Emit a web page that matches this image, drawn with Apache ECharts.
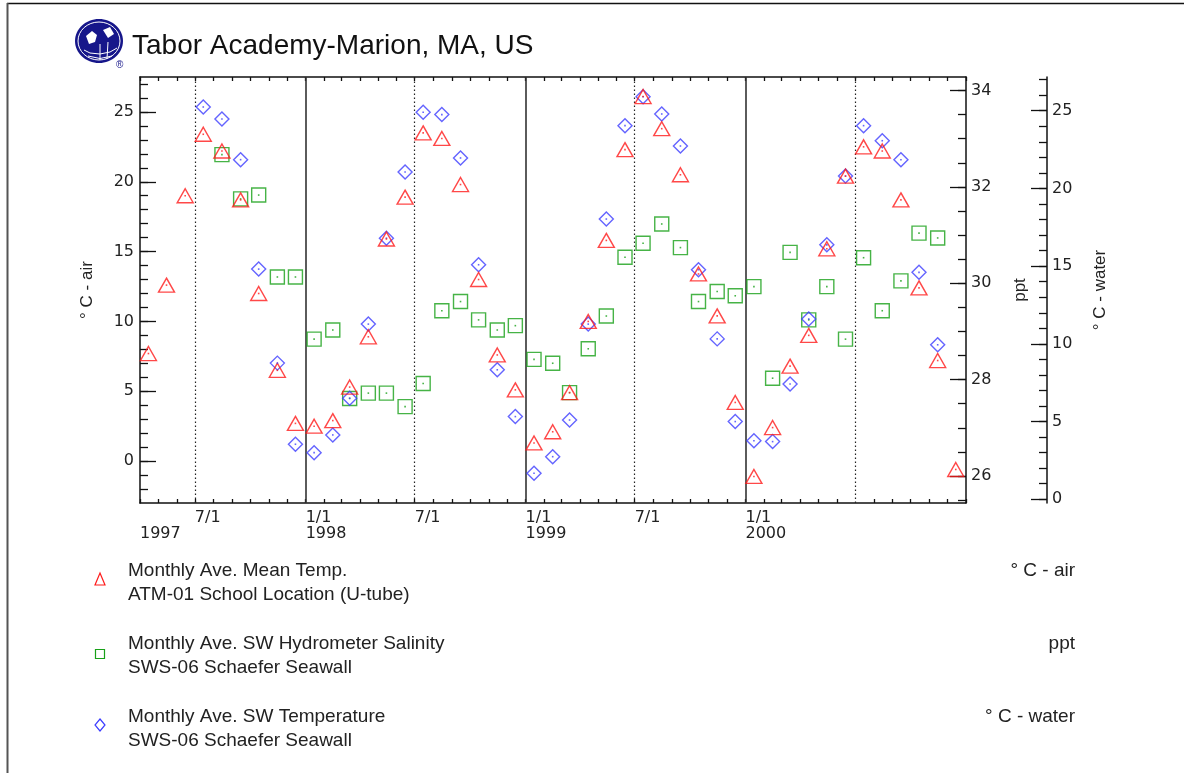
<!DOCTYPE html>
<html>
<head>
<meta charset="utf-8">
<title>Tabor Academy-Marion, MA, US</title>
<script src="https://cdn.jsdelivr.net/npm/echarts@6/dist/echarts.min.js"></script>
<style>
  html, body { margin: 0; padding: 0; background: #fff; }
  #chart { width: 1184px; height: 773px; }
</style>
</head>
<body>
<div id="chart"></div>
<script>
var months = [
  '1997-04', '1997-05', '1997-06', '1997-07', '1997-08', '1997-09', '1997-10', '1997-11', '1997-12',
  '1998-01', '1998-02', '1998-03', '1998-04', '1998-05', '1998-06', '1998-07', '1998-08', '1998-09', '1998-10', '1998-11', '1998-12',
  '1999-01', '1999-02', '1999-03', '1999-04', '1999-05', '1999-06', '1999-07', '1999-08', '1999-09', '1999-10', '1999-11', '1999-12',
  '2000-01', '2000-02', '2000-03', '2000-04', '2000-05', '2000-06', '2000-07', '2000-08', '2000-09', '2000-10', '2000-11', '2000-12'
];
// deg C - air
var airTemp = [
  7.7, 12.6, 19.0, 23.4, 22.2, 18.7, 12.0, 6.5, 2.7,
  2.5, 2.9, 5.3, 8.9, 15.9, 18.9, 23.5, 23.1, 19.8, 13.0, 7.6, 5.1,
  1.3, 2.1, 4.9, 10.0, 15.8, 22.3, 26.1, 23.8, 20.5, 13.4, 10.4, 4.2,
  -1.1, 2.4, 6.8, 9.0, 15.2, 20.4, 22.5, 22.2, 18.7, 12.4, 7.2, -0.6
];
// ppt
var salinity = [
  null, null, null, null, 32.67, 31.75, 31.83, 30.13, 30.13,
  28.84, 29.03, 27.61, 27.72, 27.72, 27.44, 27.92, 29.43, 29.62, 29.24, 29.03, 29.12,
  28.42, 28.34, 27.73, 28.64, 29.32, 30.54, 30.83, 31.23, 30.74, 29.62, 29.83, 29.74,
  29.93, 28.03, 30.64, 29.24, 29.93, 28.84, 30.53, 29.43, 30.05, 31.04, 30.94, null
];
// deg C - water
var waterTemp = [
  null, null, null, 25.24, 24.47, 21.85, 14.81, 8.76, 3.54,
  3.0, 4.14, 6.5, 11.27, 16.8, 21.06, 24.9, 24.75, 21.96, 15.09, 8.33, 5.32,
  1.67, 2.74, 5.1, 11.27, 18.03, 24.04, 25.9, 24.79, 22.73, 14.77, 10.32, 5.0,
  3.77, 3.71, 7.42, 11.6, 16.37, 20.8, 24.04, 23.07, 21.85, 14.6, 9.94, null
];
var yearStarts = ['1998-01-01', '1999-01-01', '2000-01-01'];
var midYears = ['1997-07-01', '1998-07-01', '1999-07-01', '2000-07-01'];
var airTicks = [0, 5, 10, 15, 20, 25];
var pptTicks = [26, 28, 30, 32, 34];
var waterTicks = [0, 5, 10, 15, 20, 25];

var RED = '#ff1a1a', GREEN = '#18a018', BLUE = '#3d3dff';
var FONT = '"Liberation Sans", Arial, Helvetica, sans-serif';
var TICKFONT = '"DejaVu Sans", sans-serif';

function toTime(s) {
  var p = s.split('-');
  return Date.UTC(+p[0], +p[1] - 1, p[2] ? +p[2] : 15);
}
var xMin = toTime('1997-04-01');
var xMax = toTime('2001-01-01');

// monthly ticks on top and bottom
var monthTicks = [];
for (var y = 1997, m = 3; Date.UTC(y, m, 1) <= xMax; m++) {
  if (m > 11) { m = 0; y++; }
  monthTicks.push(Date.UTC(y, m, 1));
}
var xLabels = [xMin].concat(midYears.map(toTime), yearStarts.map(toTime)).sort(function(a, b) { return a - b; });

function range(a, b, step) {
  var out = [];
  for (var v = a; v <= b + 1e-9; v += step) out.push(+v.toFixed(2));
  return out;
}

function points(vals) {
  var out = [];
  vals.forEach(function(v, i) { if (v != null) out.push([toTime(months[i]), v]); });
  return out;
}

var chart = echarts.init(document.getElementById('chart'), null, { renderer: 'canvas' });

var axisLine = { show: true, onZero: false, lineStyle: { color: '#111', width: 1.5 } };
var tickLabel = { color: '#222', fontFamily: TICKFONT, fontSize: 16 };

function yMajor(pos, offset, min, max, ticks, name, gap) {
  return {
    type: 'value', position: pos, offset: offset, min: min, max: max,
    axisLine: axisLine,
    axisTick: { show: true, inside: true, length: 16, customValues: ticks, lineStyle: { color: '#111', width: 1.3 } },
    axisLabel: Object.assign({ customValues: ticks, margin: pos === 'left' ? 6 : 5 }, tickLabel),
    splitLine: { show: false },
    name: name, nameLocation: 'middle', nameRotate: 90, nameGap: gap,
    nameTextStyle: { color: '#222', fontFamily: FONT, fontSize: 17 }
  };
}
function yMinor(pos, offset, min, max, ticks) {
  return {
    type: 'value', position: pos, offset: offset, min: min, max: max,
    axisLine: { show: false, onZero: false },
    axisTick: { show: true, inside: true, length: 8, customValues: ticks, lineStyle: { color: '#111', width: 1.3 } },
    axisLabel: { show: false },
    splitLine: { show: false }
  };
}

function markerSeries(name, vals, yIdx, symbol, size, color) {
  return {
    name: name, type: 'scatter', xAxisIndex: 0, yAxisIndex: yIdx,
    data: points(vals), symbol: symbol, symbolSize: size,
    itemStyle: { color: 'rgba(0,0,0,0)', borderColor: color, borderWidth: 1.4 },
    z: 3
  };
}
function dotSeries(vals, yIdx, color) {
  return {
    type: 'scatter', xAxisIndex: 0, yAxisIndex: yIdx,
    data: points(vals), symbol: 'rect', symbolSize: 1.6,
    itemStyle: { color: color }, z: 4, silent: true
  };
}

var vLines = yearStarts.map(function(s) {
  return { xAxis: toTime(s), lineStyle: { type: 'solid', color: '#333', width: 1.6 } };
}).concat(midYears.map(function(s) {
  return { xAxis: toTime(s), lineStyle: { type: [1.5, 2.5], color: '#222', width: 1.2 } };
}));

chart.setOption({
  animation: false,
  grid: { left: 140, top: 77, width: 826, height: 426, outerBoundsMode: 'none' },
  xAxis: [
    {
      type: 'value', position: 'bottom', min: xMin, max: xMax,
      axisLine: axisLine,
      axisTick: { show: true, inside: true, length: 4, customValues: monthTicks, lineStyle: { color: '#111', width: 1.3 } },
      axisLabel: Object.assign({
        customValues: xLabels, align: 'left', verticalAlign: 'top', margin: 7, lineHeight: 16,
        showMinLabel: true, showMaxLabel: false, hideOverlap: false,
        formatter: function(v) {
          var d = new Date(v);
          if (v === xMin) return '\n' + d.getUTCFullYear();
          if (d.getUTCMonth() === 0) return '1/1\n' + d.getUTCFullYear();
          if (d.getUTCMonth() === 6) return '7/1';
          return '';
        }
      }, tickLabel),
      splitLine: { show: false }
    },
    {
      type: 'value', position: 'top', min: xMin, max: xMax,
      axisLine: axisLine,
      axisTick: { show: true, inside: true, length: 4, customValues: monthTicks, lineStyle: { color: '#111', width: 1.3 } },
      axisLabel: { show: false },
      splitLine: { show: false }
    }
  ],
  yAxis: [
    yMajor('left', 0, -3, 27.5, airTicks, '\u00b0 C - air', 44),
    yMinor('left', 0, -3, 27.5, range(-2, 27, 1)),
    yMajor('right', 0, 25.44, 34.28, pptTicks, 'ppt', 46),
    yMinor('right', 0, 25.44, 34.28, range(25.5, 34, 0.5)),
    yMajor('right', 81, -0.24, 27.17, waterTicks, '\u00b0 C - water', 45),
    yMinor('right', 81, -0.24, 27.17, range(0, 27, 1))
  ],
  series: [
    markerSeries('Monthly Ave. SW Hydrometer Salinity', salinity, 2, 'rect', 14, GREEN),
    markerSeries('Monthly Ave. SW Temperature', waterTemp, 4, 'diamond', 14, BLUE),
    Object.assign(markerSeries('Monthly Ave. Mean Temp.', airTemp, 0, 'triangle', [16, 14], RED), {
      markLine: { silent: true, symbol: ['none', 'none'], label: { show: false }, data: vLines, z: 1 }
    }),
    dotSeries(salinity, 2, GREEN),
    dotSeries(waterTemp, 4, BLUE),
    dotSeries(airTemp, 0, RED)
  ],
  graphic: [
    // page frame
    { type: 'line', shape: { x1: 7, y1: 3.5, x2: 1184, y2: 3.5 }, style: { stroke: '#111', lineWidth: 1.5 } },
    { type: 'line', shape: { x1: 7.5, y1: 3, x2: 7.5, y2: 773 }, style: { stroke: '#555', lineWidth: 2 } },
    // logo
    { type: 'ellipse', shape: { cx: 99, cy: 41, rx: 24, ry: 22 }, style: { fill: '#16168a' } },
    { type: 'ellipse', shape: { cx: 99, cy: 41, rx: 21, ry: 19 }, style: { fill: 'none', stroke: '#fff', lineWidth: 1 } },
    { type: 'polyline', shape: { points: [[84, 50], [90, 53], [100, 54], [110, 52], [117, 48]] }, style: { stroke: '#fff', lineWidth: 1, fill: 'none' } },
    { type: 'polyline', shape: { points: [[88, 56], [100, 58.5], [112, 56]] }, style: { stroke: '#fff', lineWidth: 1, fill: 'none' } },
    { type: 'line', shape: { x1: 100, y1: 44, x2: 100, y2: 60 }, style: { stroke: '#fff', lineWidth: 1 } },
    { type: 'line', shape: { x1: 108, y1: 42, x2: 107, y2: 59 }, style: { stroke: '#fff', lineWidth: 1 } },
    { type: 'polygon', shape: { points: [[86, 36], [92, 31], [97, 35], [95, 42], [89, 44]] }, style: { fill: '#fff' } },
    { type: 'polygon', shape: { points: [[103, 30], [110, 27], [114, 34], [108, 38]] }, style: { fill: '#fff' } },
    { type: 'text', x: 116, y: 60, style: { text: '\u00ae', fill: '#16168a', fontSize: 10, fontFamily: FONT } },
    // title
    { type: 'text', x: 132, y: 46, style: { text: 'Tabor Academy-Marion, MA, US', fill: '#111', fontSize: 28, fontFamily: FONT, verticalAlign: 'middle' } },
    // legend markers
    { type: 'polygon', shape: { points: [[95, 585], [105, 585], [100, 573]] }, style: { fill: 'none', stroke: RED, lineWidth: 1.2 } },
    { type: 'rect', shape: { x: 95.5, y: 649.5, width: 9, height: 9 }, style: { fill: 'none', stroke: GREEN, lineWidth: 1.2 } },
    { type: 'polygon', shape: { points: [[100, 719], [105, 725], [100, 731], [95, 725]] }, style: { fill: 'none', stroke: BLUE, lineWidth: 1.2 } },
    // legend texts
    { type: 'text', x: 128, y: 583, style: { text: 'Monthly Ave. Mean Temp.\nATM-01 School Location (U-tube)', fill: '#222', fontSize: 19, lineHeight: 24, fontFamily: FONT, verticalAlign: 'middle' } },
    { type: 'text', x: 128, y: 656, style: { text: 'Monthly Ave. SW Hydrometer Salinity\nSWS-06 Schaefer Seawall', fill: '#222', fontSize: 19, lineHeight: 24, fontFamily: FONT, verticalAlign: 'middle' } },
    { type: 'text', x: 128, y: 729, style: { text: 'Monthly Ave. SW Temperature\nSWS-06 Schaefer Seawall', fill: '#222', fontSize: 19, lineHeight: 24, fontFamily: FONT, verticalAlign: 'middle' } },
    { type: 'text', x: 1075, y: 571, style: { text: '\u00b0 C - air', fill: '#222', fontSize: 19, fontFamily: FONT, align: 'right', verticalAlign: 'middle' } },
    { type: 'text', x: 1075, y: 644, style: { text: 'ppt', fill: '#222', fontSize: 19, fontFamily: FONT, align: 'right', verticalAlign: 'middle' } },
    { type: 'text', x: 1075, y: 717, style: { text: '\u00b0 C - water', fill: '#222', fontSize: 19, fontFamily: FONT, align: 'right', verticalAlign: 'middle' } }
  ]
});
</script>
</body>
</html>
